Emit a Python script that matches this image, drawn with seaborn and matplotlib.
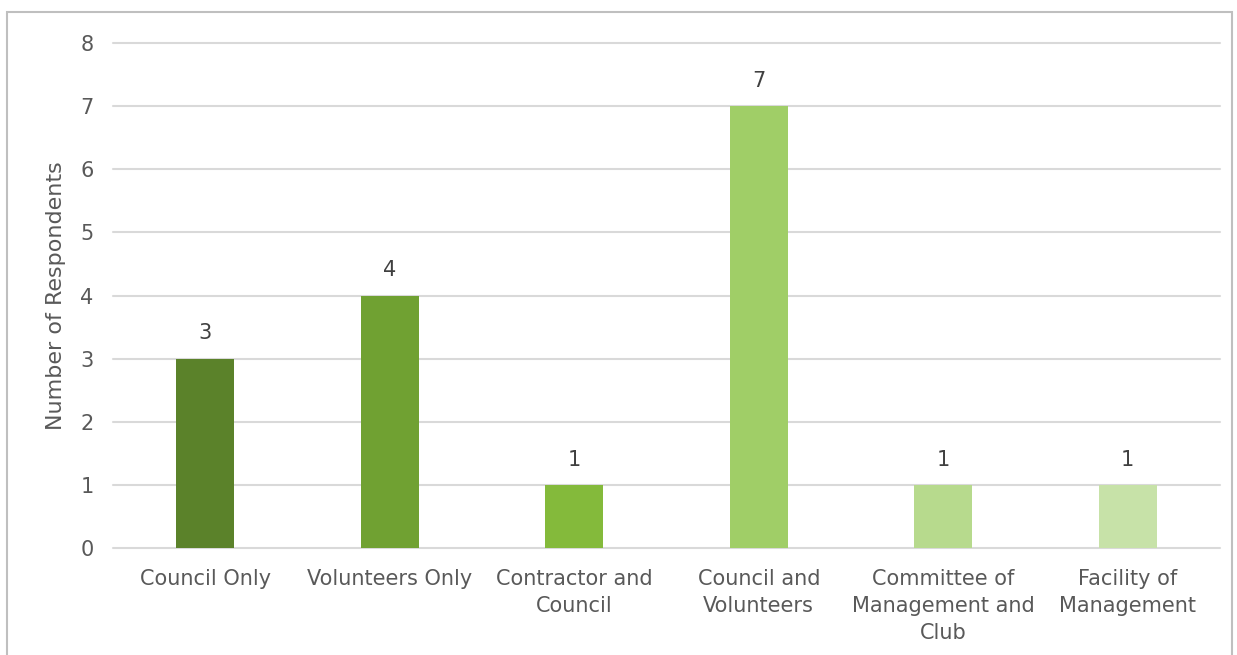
import matplotlib.pyplot as plt
from matplotlib.patches import Rectangle
import seaborn as sns
import pandas as pd

categories = ['Council Only', 'Volunteers Only', 'Contractor and\nCouncil',
              'Council and\nVolunteers', 'Committee of\nManagement and\nClub',
              'Facility of\nManagement']
respondents = [3, 4, 1, 7, 1, 1]
bar_colors = ['#5B822A', '#70A132', '#84BA3B', '#A0CE67', '#B7DA8D', '#C7E2A8']

df = pd.DataFrame({'category': categories, 'respondents': respondents})

sns.set_theme(style='white')
plt.rcParams['font.family'] = ['DejaVu Sans']
text_color = '#595959'

fig = plt.figure(figsize=(12.37, 6.55), dpi=100)
ax = fig.add_axes([113 / 1237, 1 - 548 / 655, (1220 - 113) / 1237, (548 - 43) / 655])

sns.barplot(data=df, x='category', y='respondents', hue='category',
            palette=bar_colors, width=0.315, legend=False, ax=ax,
            saturation=1, linewidth=0)

# labels above bars
for i, v in enumerate(respondents):
    ax.text(i, v + 0.24, str(v), ha='center', va='bottom', fontsize=15, color='#404040')

ax.set_ylim(0, 8)
ax.set_xlim(-0.5, len(categories) - 0.5)
ax.set_yticks(range(0, 9))
ax.yaxis.grid(True, color='#D9D9D9', linewidth=1.5)
for gl in ax.get_ygridlines():
    gl.set_clip_on(False)
ax.set_axisbelow(True)
for s in ax.spines.values():
    s.set_visible(False)
ax.tick_params(axis='both', length=0, labelsize=15, colors=text_color)
ax.tick_params(axis='x', pad=15)
ax.tick_params(axis='y', pad=14)
for lbl in ax.get_xticklabels():
    lbl.set_linespacing(1.45)
ax.set_xlabel('')
ax.set_ylabel('Number of Respondents', fontsize=16, color=text_color, labelpad=10)

# outer chart frame
fig.patches.append(Rectangle((7 / 1237, -0.05), (1232 - 7) / 1237, 1.05 - 12 / 655,
                             transform=fig.transFigure, fill=False,
                             edgecolor='#BFBFBF', linewidth=1.5))

fig.savefig('out.png', dpi=100)
